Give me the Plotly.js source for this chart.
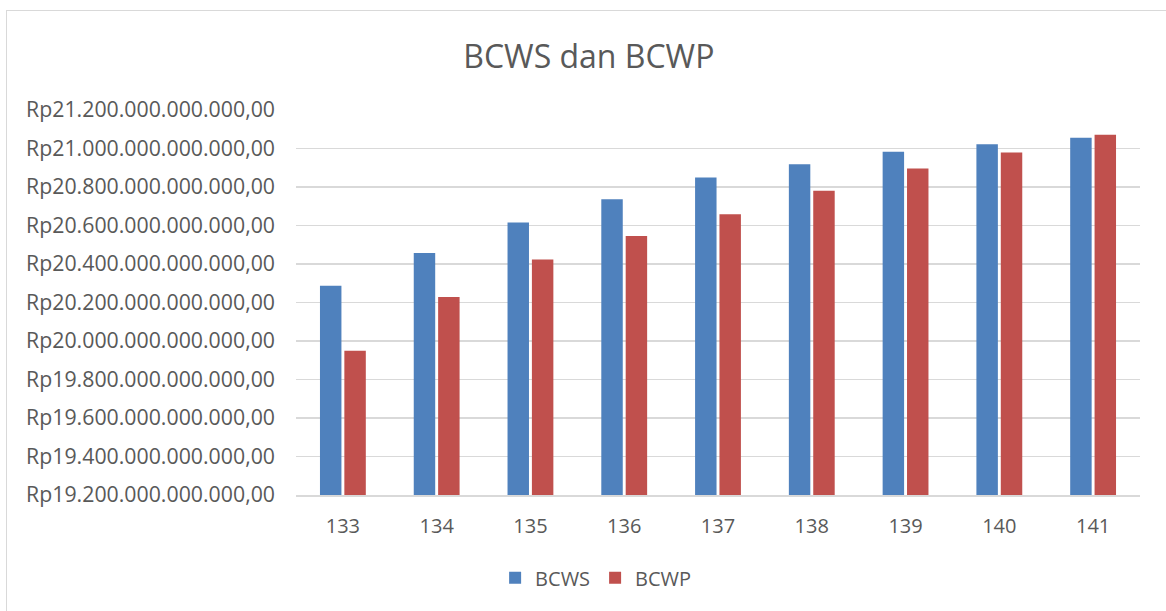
<!DOCTYPE html>
<html>
<head>
<meta charset="utf-8">
<script src="https://cdn.plot.ly/plotly-3.0.1.min.js"></script>
<style>
html,body{margin:0;padding:0;background:#fff;overflow:hidden;}
#chart{position:absolute;left:0;top:0;width:1166px;height:611px;}
#frame{position:absolute;left:6px;top:10px;width:1200px;height:700px;border:1px solid #d9d9d9;pointer-events:none;}
</style>
</head>
<body>
<div id="chart"></div>
<div id="frame"></div>
<script>
const categories = ["133","134","135","136","137","138","139","140","141"];
const bcws = [20287e9, 20457e9, 20616e9, 20737e9, 20849e9, 20918e9, 20983e9, 21022e9, 21056e9];
const bcwp = [19950e9, 20228e9, 20424e9, 20545e9, 20658e9, 20781e9, 20896e9, 20979e9, 21071e9];
const yTickVals = [19.2e12,19.4e12,19.6e12,19.8e12,20.0e12,20.2e12,20.4e12,20.6e12,20.8e12,21.0e12,21.2e12];

function rupiah(v){
  const s = Math.round(v).toString().replace(/\B(?=(\d{3})+(?!\d))/g, '.');
  return 'Rp' + s + ',00';
}
const yTickText = yTickVals.map(rupiah);

const fontFam = "'Open Sans', sans-serif";
const traces = [
  {type:'bar', name:'BCWS', x:categories, y:bcws, marker:{color:'#4f81bd'}},
  {type:'bar', name:'BCWP', x:categories, y:bcwp, marker:{color:'#c0504d'}}
];
const layout = {
  width:1166, height:611,
  margin:{l:296, r:26, t:110, b:116, autoexpand:false},
  paper_bgcolor:'rgba(0,0,0,0)', plot_bgcolor:'#fff',
  title:{text:'BCWS dan BCWP', font:{family:fontFam, size:32, color:'#595959'}, x:0.505, xanchor:'center', y:0.907, yanchor:'middle'},
  barmode:'group', bargap:0.48, bargroupgap:0.12,
  xaxis:{type:'category', tickfont:{family:fontFam, size:20, color:'#595959'}, showgrid:false,
         showline:true, linecolor:'#d9d9d9', linewidth:1.5, ticks:'', ticklabelstandoff:12},
  yaxis:{range:[19.2e12, 21.2e12], tickmode:'array', tickvals:yTickVals, ticktext:yTickText,
         tickfont:{family:fontFam, size:21.3, color:'#595959'},
         gridcolor:'#d9d9d9', gridwidth:1.5, zeroline:false, showline:false, ticks:'', ticklabelstandoff:20},
  legend:{orientation:'h', x:0.355, xanchor:'center', y:-0.215, yanchor:'middle',
          font:{family:fontFam, size:20, color:'#595959'}, itemwidth:30, tracegroupgap:0},
  showlegend:true
};
Plotly.newPlot('chart', traces, layout, {displayModeBar:false, staticPlot:true});
</script>
</body>
</html>
